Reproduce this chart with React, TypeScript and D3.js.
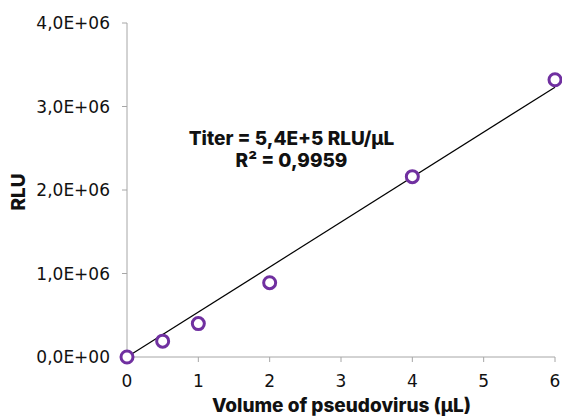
import React from "react";
import * as d3 from "d3";

const volumes = [0, 0.5, 1, 2, 4, 6];
const rlu = [0, 190000, 400000, 890000, 2160000, 3320000];
const xTicks = [0, 1, 2, 3, 4, 5, 6];
const yTicks = [0, 1000000, 2000000, 3000000, 4000000];
const annotation = ["Titer = 5,4E+5 RLU/µL", "R² = 0,9959"];

const width = 562;
const height = 417;
const margin = { top: 23, right: 7, bottom: 60, left: 127 };
const boldFont = "Inter, 'DejaVu Sans', sans-serif";
const tickFont = "'DejaVu Sans', sans-serif";
const axisColor = "#a6a6a6";

// trend line forced through the origin
const slope = d3.sum(volumes, (v, i) => v * rlu[i]) / d3.sum(volumes, (v) => v * v);

const fmtY = (v: number) => {
  const s = d3.format(".1e")(v).replace(".", ",");
  const [m, e] = s.split("e");
  const exp = Math.abs(+e).toString().padStart(2, "0");
  return `${m}E${+e < 0 ? "-" : "+"}${exp}`;
};

const App = () => {
  const x = d3.scaleLinear().domain([0, 6]).range([margin.left, width - margin.right]);
  const y = d3.scaleLinear().domain([0, 4000000]).range([height - margin.bottom, margin.top]);
  const line = d3
    .line<number>()
    .x((d) => x(d))
    .y((d) => y(d * slope));

  return (
    <svg
      width={width}
      height={height}
      style={{ position: "absolute", left: 0, top: 0, fontFamily: boldFont }}
    >
      <rect width={width} height={height} fill="#fff" />
      {/* y axis */}
      <line x1={x(0)} x2={x(0)} y1={y(0)} y2={y(4000000)} stroke={axisColor} />
      {yTicks.map((t) => (
        <g key={t}>
          <line x1={x(0) - 5} x2={x(0)} y1={y(t)} y2={y(t)} stroke={axisColor} />
          <text
            x={x(0) - 17}
            y={y(t)}
            dy="0.36em"
            textAnchor="end"
            fontSize={17}
            fontFamily={tickFont}
            fill="#111"
          >
            {fmtY(t)}
          </text>
        </g>
      ))}
      {/* x axis */}
      <line x1={x(0)} x2={x(6)} y1={y(0)} y2={y(0)} stroke={axisColor} />
      {xTicks.map((t) => (
        <g key={t}>
          <line x1={x(t)} x2={x(t)} y1={y(0)} y2={y(0) + 5} stroke={axisColor} />
          <text
            x={x(t)}
            y={y(0) + 30}
            textAnchor="middle"
            fontSize={17}
            fontFamily={tickFont}
            fill="#111"
          >
            {t}
          </text>
        </g>
      ))}
      <text
        x={341.5}
        y={412}
        textAnchor="middle"
        fontSize={19}
        fontWeight={800}
        fill="#111"
      >
        Volume of pseudovirus (µL)
      </text>
      <text
        transform={`translate(25, ${(y(0) + y(4000000)) / 2 + 2}) rotate(-90)`}
        textAnchor="middle"
        fontSize={19}
        fontWeight={800}
        fill="#111"
      >
        RLU
      </text>
      {/* trend line */}
      <path d={line([0, 6]) ?? ""} fill="none" stroke="#000" strokeWidth={1.2} />
      {/* points */}
      {volumes.map((v, i) => (
        <circle
          key={i}
          cx={x(v)}
          cy={y(rlu[i])}
          r={6}
          fill="#fff"
          stroke="#7030a0"
          strokeWidth={3}
        />
      ))}
      {annotation.map((t, i) => (
        <text
          key={t}
          x={291.5}
          y={145 + i * 22}
          textAnchor="middle"
          fontSize={19}
          fontWeight={800}
          fill="#111"
        >
          {t}
        </text>
      ))}
    </svg>
  );
};

export default App;
